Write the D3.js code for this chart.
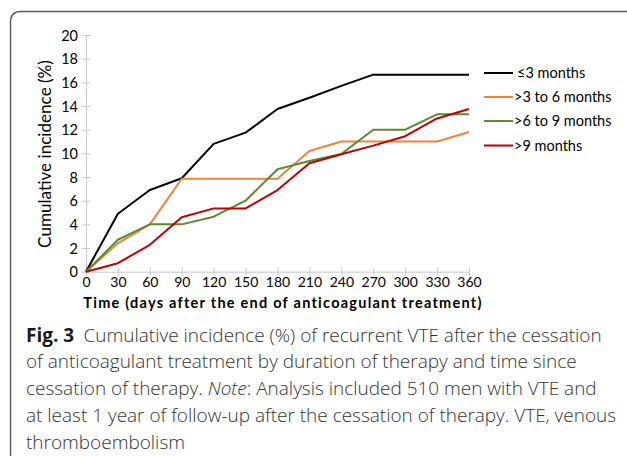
<!DOCTYPE html>
<html><head><meta charset="utf-8">
<script src="https://cdn.jsdelivr.net/npm/d3@7"></script>
<style>
html,body{margin:0;padding:0;background:#fff;}
svg{display:block;}
</style></head>
<body>
<svg id="chart" width="627" height="457"></svg>
<script>
const days = [0,30,60,90,120,150,180,210,240,270,300,330,360];
const seriesNames = ["\u22643 months", ">3 to 6 months", ">6 to 9 months", ">9 months"];
const seriesColors = ["#000000", "#F0823A", "#5A8A32", "#C00000"];
const le3 = [0,4.9,6.9,7.9,10.8,11.75,13.75,14.7,15.7,16.65,16.65,16.65,16.65];
const gt3to6 = [0,2.4,4.0,7.85,7.85,7.85,7.85,10.2,11.0,11.0,11.0,11.0,11.8];
const gt6to9 = [0,2.7,4.0,4.0,4.65,6.0,8.65,9.35,9.95,12.0,12.0,13.3,13.3];
const gt9 = [0,0.72,2.27,4.6,5.35,5.35,6.9,9.16,9.92,10.65,11.45,12.95,13.75];
const yTicks = [0,2,4,6,8,10,12,14,16,18,20];
const xTicks = days;
const captionLines = [
  "Cumulative incidence (%) of recurrent VTE after the cessation",
  "of anticoagulant treatment by duration of therapy and time since",
  "cessation of therapy. |Note|: Analysis included 510 men with VTE and",
  "at least 1 year of follow-up after the cessation of therapy. VTE, venous",
  "thromboembolism"
];
const allSeries = [le3, gt3to6, gt6to9, gt9];

const svg = d3.select("#chart");
const chartFont = "Lato, 'Open Sans', sans-serif";
const capFont = "'Open Sans', 'Noto Sans', sans-serif";

function fitWidth(sel, base, target){
  const w = sel.node().getComputedTextLength();
  sel.attr("font-size", base * target / w);
}
function spreadTo(sel, target){
  const txt = sel.text();
  const w = sel.node().getComputedTextLength();
  const ls = (target - w) / Math.max(1, txt.length - 1);
  sel.attr("letter-spacing", ls);
}

// frame
svg.append("path")
  .attr("d", "M10.5,456 L10.5,22 Q10.5,11.5 21,11.5 L627,11.5")
  .attr("fill","none").attr("stroke","#5a5a5a").attr("stroke-width",1.4);

const x = d3.scaleLinear().domain([0,360]).range([86,469]);
const y = d3.scaleLinear().domain([0,20]).range([271.7,35]);

const axisColor = "#c8c8c8";
// y axis
const gy = svg.append("g").attr("transform","translate(86,0)")
  .call(d3.axisLeft(y).tickValues(yTicks).tickSize(4).tickPadding(4).tickFormat(d3.format("d")));
gy.selectAll(".domain").attr("stroke",axisColor);
gy.selectAll(".tick line").attr("stroke",axisColor).attr("x1",4).attr("x2",-4);
gy.selectAll(".tick text").attr("font-family",chartFont).attr("font-size",14.5).attr("fill","#000").attr("x",-8).attr("dy","0.36em");

// x axis
const gx = svg.append("g").attr("transform","translate(0,271.7)")
  .call(d3.axisBottom(x).tickValues(xTicks).tickSize(4).tickPadding(4).tickFormat(d3.format("d")));
gx.selectAll(".domain").attr("stroke",axisColor);
gx.selectAll(".tick line").attr("stroke",axisColor).attr("y1",-4).attr("y2",4);
gx.selectAll(".tick text").attr("font-family",chartFont).attr("font-size",14).attr("fill","#000").attr("y",5.5);

// axis titles
const xt = svg.append("text").attr("x",283).attr("y",308).attr("text-anchor","middle")
  .attr("font-family",chartFont).attr("font-weight","bold").attr("font-size",14.5).attr("fill","#000")
  .text("Time (days after the end of anticoagulant treatment)");
spreadTo(xt, 398);
const yt = svg.append("text").attr("transform","translate(51,154) rotate(-90)").attr("text-anchor","middle")
  .attr("font-family",chartFont).attr("font-size",16.5).attr("fill","#000")
  .text("Cumulative incidence (%)");
fitWidth(yt, 16.5, 188);

// lines
const line = d3.line().x((d,i)=>x(days[i])).y(d=>y(d));
[0,1,2,3].forEach(k=>{
  svg.append("path").datum(allSeries[k]).attr("d",line)
    .attr("fill","none").attr("stroke",seriesColors[k]).attr("stroke-width",2)
    .attr("stroke-linejoin","round");
});

// legend
const legY = [73, 97, 121, 145.5];
seriesNames.forEach((n,k)=>{
  svg.append("line").attr("x1",484).attr("x2",513).attr("y1",legY[k]).attr("y2",legY[k])
    .attr("stroke",seriesColors[k]).attr("stroke-width",2);
  svg.append("text").attr("x", k===0?517:514).attr("y",legY[k]).attr("dy","0.36em")
    .attr("font-family",chartFont).attr("font-size",14.5).attr("fill","#000").text(n);
});

// caption
const capBase = [341.7, 368.4, 395.1, 421.8, 448.5];
const capG = svg.append("g");
captionLines.forEach((ln,i)=>{
  const t = capG.append("text").attr("x",26).attr("y",capBase[i])
    .attr("font-family",capFont).attr("font-size",19).attr("fill","#333").attr("font-weight",300);
  if(i===0){
    t.append("tspan").attr("font-weight",700).attr("fill","#1a1a1a").text("Fig. 3");
    t.append("tspan").text("\u2002" + ln);
  } else {
    ln.split("|").forEach((part,j)=>{
      t.append("tspan").attr("font-style", j%2===1?"italic":"normal").text(part);
    });
  }
});
const first = capG.select("text").node();
const w = first.getComputedTextLength();
const fs = 19 * 576 / w;
capG.selectAll("text").attr("font-size", fs);
</script>
</body></html>
